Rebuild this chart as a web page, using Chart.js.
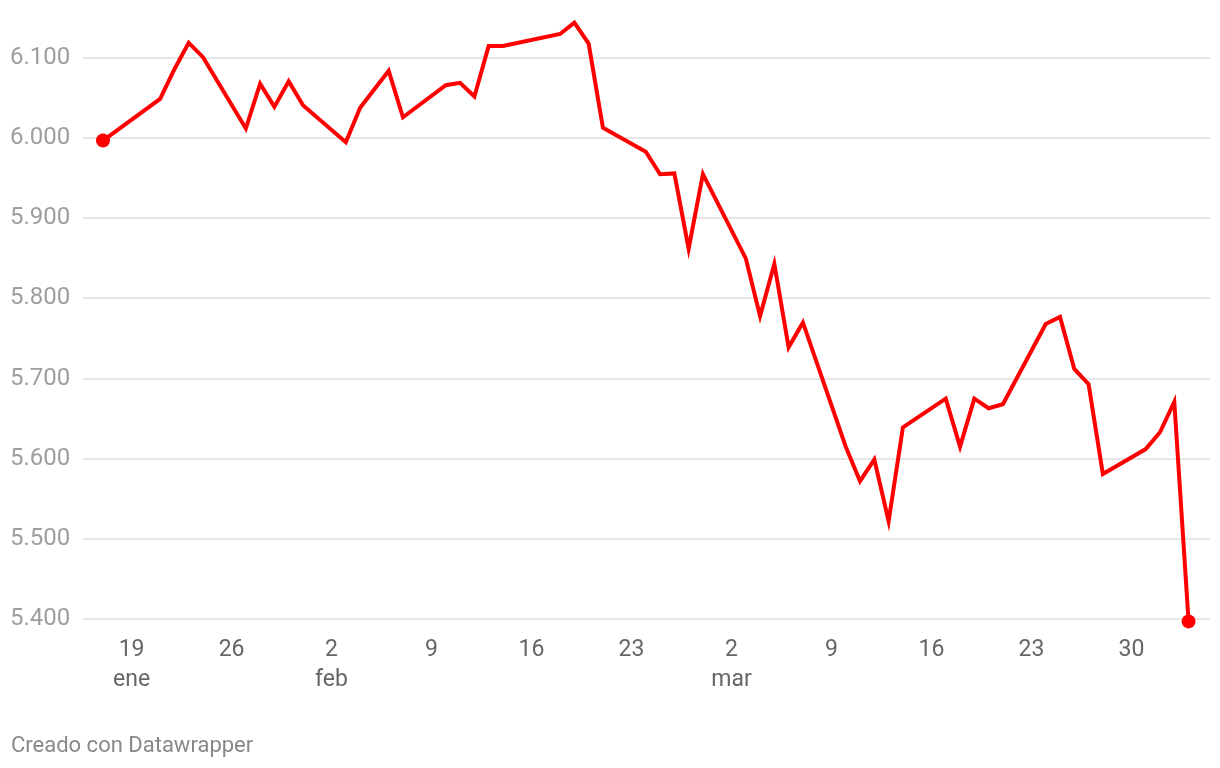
<!DOCTYPE html>
<html>
<head>
<meta charset="utf-8">
<script src="https://cdn.jsdelivr.net/npm/chart.js@4/dist/chart.umd.min.js"></script>
<style>
  html, body { margin: 0; padding: 0; background: #fff; }
  #wrap { position: relative; width: 1220px; height: 768px; }
  #footer {
    position: absolute; left: 11px; top: 732px;
    font-family: Roboto, sans-serif; font-size: 22px; color: #888;
  }
</style>
</head>
<body>
<div id="wrap">
  <canvas id="chart" width="1220" height="768"></canvas>
  <div id="footer">Creado con Datawrapper</div>
</div>
<script>
// Trading days (2025) and closing values
const dates = [
  '2025-01-17', '2025-01-21', '2025-01-22', '2025-01-23', '2025-01-24',
  '2025-01-27', '2025-01-28', '2025-01-29', '2025-01-30', '2025-01-31',
  '2025-02-03', '2025-02-04', '2025-02-05', '2025-02-06', '2025-02-07',
  '2025-02-10', '2025-02-11', '2025-02-12', '2025-02-13', '2025-02-14',
  '2025-02-18', '2025-02-19', '2025-02-20', '2025-02-21',
  '2025-02-24', '2025-02-25', '2025-02-26', '2025-02-27', '2025-02-28',
  '2025-03-03', '2025-03-04', '2025-03-05', '2025-03-06', '2025-03-07',
  '2025-03-10', '2025-03-11', '2025-03-12', '2025-03-13', '2025-03-14',
  '2025-03-17', '2025-03-18', '2025-03-19', '2025-03-20', '2025-03-21',
  '2025-03-24', '2025-03-25', '2025-03-26', '2025-03-27', '2025-03-28',
  '2025-03-31', '2025-04-01', '2025-04-02', '2025-04-03'
];
const values = [
  5997, 6049, 6086, 6119, 6101,
  6012, 6068, 6039, 6071, 6041,
  5995, 6038, 6061, 6084, 6026,
  6066, 6069, 6052, 6115, 6115,
  6130, 6144, 6118, 6013,
  5983, 5955, 5956, 5862, 5955,
  5850, 5778, 5843, 5739, 5770,
  5615, 5572, 5599, 5522, 5639,
  5675, 5615, 5675, 5663, 5668,
  5768, 5777, 5712, 5693, 5581,
  5612, 5633, 5671, 5397
];

// Axis ticks
const yTicks = [5400, 5500, 5600, 5700, 5800, 5900, 6000, 6100];
const xTickDates = ['2025-01-19', '2025-01-26', '2025-02-02', '2025-02-09', '2025-02-16',
  '2025-02-23', '2025-03-02', '2025-03-09', '2025-03-16', '2025-03-23', '2025-03-30'];
const monthNames = ['ene', 'feb', 'mar', 'abr'];

// day of year helper
function dayNum(s) {
  const d = new Date(s + 'T00:00:00Z');
  return Math.round((d - Date.UTC(2025, 0, 0)) / 86400000);
}

const points = dates.map((d, i) => ({ x: dayNum(d), y: values[i] }));
const xTicks = xTickDates.map(dayNum);
const lastIdx = points.length - 1;

const fmt = new Intl.NumberFormat('es-ES', { useGrouping: 'always' });

new Chart(document.getElementById('chart'), {
    type: 'line',
    data: {
        datasets: [{
            data: points,
            borderColor: '#ff0000',
            backgroundColor: '#ff0000',
            borderWidth: 4,
            pointRadius: (ctx) => (ctx.dataIndex === 0 || ctx.dataIndex === lastIdx) ? 7 : 0,
            pointHoverRadius: 0,
            pointBorderWidth: 0,
            tension: 0,
            clip: false
        }]
    },
    options: {
        responsive: false,
        animation: false,
        layout: {
            padding: { top: 58, left: 10, right: 10, bottom: 75 }
        },
        plugins: {
            legend: { display: false },
            tooltip: { enabled: false }
        },
        scales: {
            x: {
                type: 'linear',
                min: 15.6,
                max: 94.5,
                afterBuildTicks: (axis) => {
                    axis.ticks = xTicks.map(v => ({ value: v }));
                },
                afterFit: (axis) => { axis.height = 74; },
                grid: { display: false },
                border: { display: false },
                ticks: {
                    color: '#666',
                    padding: 8,
                    maxRotation: 0,
                    autoSkip: false,
                    font: { family: 'Roboto', size: 23, lineHeight: 1.3 },
                    callback: (value) => {
                        const d = new Date(Date.UTC(2025, 0, value));
                        const day = d.getUTCDate();
                        if (day <= 7 || value === xTicks[0]) return [String(day), monthNames[d.getUTCMonth()]];
                        return String(day);
                    }
                }
            },
            y: {
                min: 5400,
                max: 6100,
                afterBuildTicks: (axis) => {
                    axis.ticks = yTicks.map(v => ({ value: v }));
                },
                afterFit: (axis) => { axis.width = 73; },
                grid: {
                    color: '#e6e6e6',
                    lineWidth: 2,
                    drawTicks: false
                },
                border: { display: false },
                ticks: {
                    color: '#9e9e9e',
                    padding: 13,
                    crossAlign: 'far',
                    font: { family: 'Roboto', size: 24 },
                    callback: (value) => fmt.format(value)
                }
            }
        }
    }
});
</script>
</body>
</html>
